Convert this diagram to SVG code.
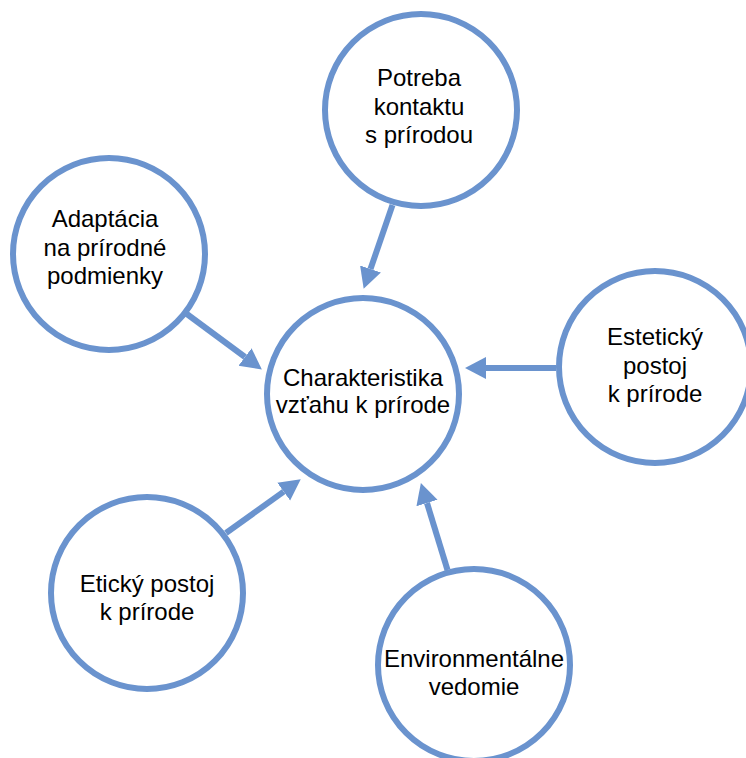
<svg xmlns="http://www.w3.org/2000/svg" width="746" height="758" viewBox="0 0 746 758">
<style>
.node{fill:#FFFFFF;stroke:#6A93CE;stroke-width:6}
.edge{stroke:#6A93CE;stroke-width:6;fill:none}
.lbl{font-family:"Liberation Sans",Arial,sans-serif;font-size:24px;fill:#000000;text-anchor:middle}
</style>
<defs>
<marker id="ah" markerUnits="userSpaceOnUse" markerWidth="22" markerHeight="24" refX="0" refY="12" orient="auto">
<path d="M0,1 L21,12 L0,23 z" fill="#6A93CE"/>
</marker>
</defs>
<rect width="746" height="758" fill="#FFFFFF"/>
<g id="connectors">
<line class="edge" x1="392.5" y1="205" x2="370.5" y2="269" marker-end="url(#ah)"/>
<line class="edge" x1="185.5" y1="313" x2="245" y2="357" marker-end="url(#ah)"/>
<line class="edge" x1="556" y1="368" x2="486" y2="368" marker-end="url(#ah)"/>
<line class="edge" x1="226" y1="533" x2="283.7" y2="491.6" marker-end="url(#ah)"/>
<line class="edge" x1="447.5" y1="570" x2="427" y2="503" marker-end="url(#ah)"/>
</g>
<g id="node-center">
<circle class="node" cx="363" cy="394" r="96"/>
<text class="lbl" x="363" y="386">Charakteristika</text>
<text class="lbl" x="363" y="413">vzťahu k prírode</text>
</g>
<g id="node-potreba">
<circle class="node" cx="421" cy="110" r="96"/>
<text class="lbl" x="419" y="86">Potreba</text>
<text class="lbl" x="419" y="115">kontaktu</text>
<text class="lbl" x="419" y="143">s prírodou</text>
</g>
<g id="node-adaptacia">
<circle class="node" cx="109" cy="254" r="96"/>
<text class="lbl" x="105" y="227">Adaptácia</text>
<text class="lbl" x="105" y="256">na prírodné</text>
<text class="lbl" x="105" y="284">podmienky</text>
</g>
<g id="node-esteticky">
<circle class="node" cx="655" cy="367" r="96"/>
<text class="lbl" x="655" y="345">Estetický</text>
<text class="lbl" x="655" y="374">postoj</text>
<text class="lbl" x="655" y="402">k prírode</text>
</g>
<g id="node-eticky">
<circle class="node" cx="147" cy="593" r="96"/>
<text class="lbl" x="147" y="592">Etický postoj</text>
<text class="lbl" x="147" y="620">k prírode</text>
</g>
<g id="node-environment">
<circle class="node" cx="474" cy="665" r="96"/>
<text class="lbl" x="474" y="667">Environmentálne</text>
<text class="lbl" x="474" y="695">vedomie</text>
</g>
</svg>
